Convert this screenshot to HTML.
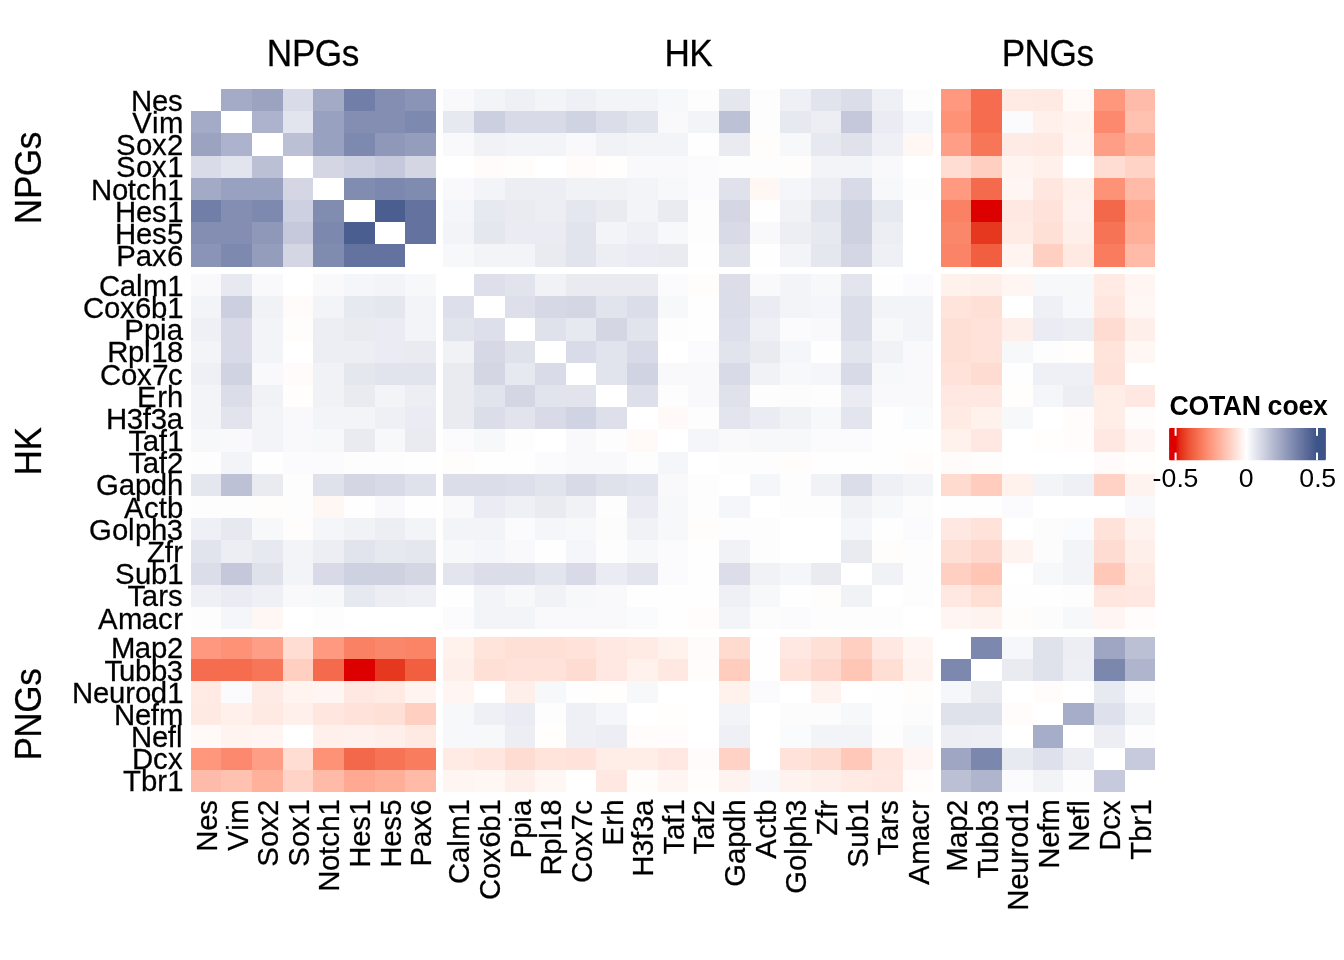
<!DOCTYPE html>
<html><head><meta charset="utf-8">
<style>
html,body{margin:0;padding:0;background:#fff;}
body{width:1344px;height:960px;overflow:hidden;}
svg{display:block;font-family:"Liberation Sans",sans-serif;fill:#000;font-kerning:none;}
.n{font-size:29.33px;stroke:#000;stroke-width:0.25px;}
.t{font-size:35.2px;stroke:#000;stroke-width:0.25px;}
.lt{font-size:26.67px;font-weight:bold;}
.ll{font-size:26.67px;}
</style></head><body>
<svg width="1344" height="960" viewBox="0 0 1344 960">
<defs><linearGradient id="lg" gradientUnits="userSpaceOnUse" x1="1175.6" x2="1317" y1="0" y2="0">
<stop offset="0" stop-color="#DD0000"/><stop offset="0.025" stop-color="#E22511"/><stop offset="0.05" stop-color="#E6381E"/><stop offset="0.075" stop-color="#EA472B"/><stop offset="0.1" stop-color="#EE5537"/><stop offset="0.125" stop-color="#F16143"/><stop offset="0.15" stop-color="#F56D4E"/><stop offset="0.175" stop-color="#F8785A"/><stop offset="0.2" stop-color="#FA8366"/><stop offset="0.225" stop-color="#FD8E72"/><stop offset="0.25" stop-color="#FF987E"/><stop offset="0.275" stop-color="#FFA38B"/><stop offset="0.3" stop-color="#FFAD97"/><stop offset="0.325" stop-color="#FFB7A3"/><stop offset="0.35" stop-color="#FFC2B0"/><stop offset="0.375" stop-color="#FFCCBD"/><stop offset="0.4" stop-color="#FFD6CA"/><stop offset="0.425" stop-color="#FFE0D7"/><stop offset="0.45" stop-color="#FFEBE4"/><stop offset="0.475" stop-color="#FFF5F2"/><stop offset="0.5" stop-color="#FFFFFF"/><stop offset="0.525" stop-color="#F5F6F9"/><stop offset="0.55" stop-color="#EBECF3"/><stop offset="0.575" stop-color="#E1E3ED"/><stop offset="0.6" stop-color="#D8DAE7"/><stop offset="0.625" stop-color="#CED1E0"/><stop offset="0.65" stop-color="#C4C8DA"/><stop offset="0.675" stop-color="#BABFD4"/><stop offset="0.7" stop-color="#B1B6CE"/><stop offset="0.725" stop-color="#A7AEC8"/><stop offset="0.75" stop-color="#9EA5C2"/><stop offset="0.775" stop-color="#949CBC"/><stop offset="0.8" stop-color="#8A94B7"/><stop offset="0.825" stop-color="#818CB1"/><stop offset="0.85" stop-color="#7783AB"/><stop offset="0.875" stop-color="#6E7BA5"/><stop offset="0.9" stop-color="#64739F"/><stop offset="0.925" stop-color="#5B6B99"/><stop offset="0.95" stop-color="#516393"/><stop offset="0.975" stop-color="#475C8E"/><stop offset="1" stop-color="#3C5488"/>
</linearGradient></defs>
<rect width="1344" height="960" fill="#fff"/>
<g shape-rendering="crispEdges">
<rect x="221" y="89" width="31" height="22" fill="#A4ABC7"/>
<rect x="252" y="89" width="31" height="22" fill="#9CA3C1"/>
<rect x="283" y="89" width="30" height="22" fill="#D9DCE8"/>
<rect x="313" y="89" width="31" height="22" fill="#A3AAC5"/>
<rect x="344" y="89" width="31" height="22" fill="#717EA7"/>
<rect x="375" y="89" width="30" height="22" fill="#848EB3"/>
<rect x="405" y="89" width="31" height="22" fill="#8A94B7"/>
<rect x="443" y="89" width="31" height="22" fill="#F9F9FB"/>
<rect x="474" y="89" width="31" height="22" fill="#F3F4F8"/>
<rect x="505" y="89" width="30" height="22" fill="#EFF0F5"/>
<rect x="535" y="89" width="31" height="22" fill="#F3F4F8"/>
<rect x="566" y="89" width="30" height="22" fill="#EFF0F5"/>
<rect x="596" y="89" width="31" height="22" fill="#F3F4F8"/>
<rect x="627" y="89" width="31" height="22" fill="#F3F4F8"/>
<rect x="658" y="89" width="30" height="22" fill="#F7F8FA"/>
<rect x="688" y="89" width="31" height="22" fill="#FDFDFE"/>
<rect x="719" y="89" width="31" height="22" fill="#E5E7EF"/>
<rect x="750" y="89" width="30" height="22" fill="#FDFDFE"/>
<rect x="780" y="89" width="31" height="22" fill="#EFF0F5"/>
<rect x="811" y="89" width="30" height="22" fill="#E1E3ED"/>
<rect x="841" y="89" width="31" height="22" fill="#DBDEE9"/>
<rect x="872" y="89" width="31" height="22" fill="#EFF0F5"/>
<rect x="903" y="89" width="30" height="22" fill="#FDFDFE"/>
<rect x="941" y="89" width="30" height="22" fill="#FF987E"/>
<rect x="971" y="89" width="31" height="22" fill="#F56D4E"/>
<rect x="1002" y="89" width="31" height="22" fill="#FFEBE4"/>
<rect x="1033" y="89" width="30" height="22" fill="#FFEAE3"/>
<rect x="1063" y="89" width="31" height="22" fill="#FFFAF8"/>
<rect x="1094" y="89" width="31" height="22" fill="#FF977D"/>
<rect x="1125" y="89" width="30" height="22" fill="#FFBBA9"/>
<rect x="191" y="111" width="30" height="22" fill="#A4ABC7"/>
<rect x="252" y="111" width="31" height="22" fill="#ADB3CC"/>
<rect x="283" y="111" width="30" height="22" fill="#E3E5EE"/>
<rect x="313" y="111" width="31" height="22" fill="#99A1C0"/>
<rect x="344" y="111" width="31" height="22" fill="#848EB3"/>
<rect x="375" y="111" width="30" height="22" fill="#848EB3"/>
<rect x="405" y="111" width="31" height="22" fill="#7E89AF"/>
<rect x="443" y="111" width="31" height="22" fill="#E7E9F0"/>
<rect x="474" y="111" width="31" height="22" fill="#CCCFDF"/>
<rect x="505" y="111" width="30" height="22" fill="#D8DAE7"/>
<rect x="535" y="111" width="31" height="22" fill="#D8DAE7"/>
<rect x="566" y="111" width="30" height="22" fill="#D0D3E2"/>
<rect x="596" y="111" width="31" height="22" fill="#DBDEE9"/>
<rect x="627" y="111" width="31" height="22" fill="#E1E3ED"/>
<rect x="658" y="111" width="30" height="22" fill="#F9F9FB"/>
<rect x="688" y="111" width="31" height="22" fill="#F3F4F8"/>
<rect x="719" y="111" width="31" height="22" fill="#BCC1D6"/>
<rect x="750" y="111" width="30" height="22" fill="#FDFDFE"/>
<rect x="780" y="111" width="31" height="22" fill="#E7E9F0"/>
<rect x="811" y="111" width="30" height="22" fill="#EDEEF4"/>
<rect x="841" y="111" width="31" height="22" fill="#C4C8DA"/>
<rect x="872" y="111" width="31" height="22" fill="#EBECF3"/>
<rect x="903" y="111" width="30" height="22" fill="#F5F6F9"/>
<rect x="941" y="111" width="30" height="22" fill="#FE9277"/>
<rect x="971" y="111" width="31" height="22" fill="#F56D4E"/>
<rect x="1002" y="111" width="31" height="22" fill="#FBFBFD"/>
<rect x="1033" y="111" width="30" height="22" fill="#FFF0EB"/>
<rect x="1063" y="111" width="31" height="22" fill="#FFF4F0"/>
<rect x="1094" y="111" width="31" height="22" fill="#FC896D"/>
<rect x="1125" y="111" width="30" height="22" fill="#FFC2B0"/>
<rect x="191" y="133" width="30" height="23" fill="#9CA3C1"/>
<rect x="221" y="133" width="31" height="23" fill="#ADB3CC"/>
<rect x="283" y="133" width="30" height="23" fill="#BBC0D5"/>
<rect x="313" y="133" width="31" height="23" fill="#99A1C0"/>
<rect x="344" y="133" width="31" height="23" fill="#7E89AF"/>
<rect x="375" y="133" width="30" height="23" fill="#8F98B9"/>
<rect x="405" y="133" width="31" height="23" fill="#959DBD"/>
<rect x="443" y="133" width="31" height="23" fill="#F9F9FB"/>
<rect x="474" y="133" width="31" height="23" fill="#F1F2F6"/>
<rect x="505" y="133" width="30" height="23" fill="#F3F4F8"/>
<rect x="535" y="133" width="31" height="23" fill="#F3F4F8"/>
<rect x="566" y="133" width="30" height="23" fill="#F9F9FB"/>
<rect x="596" y="133" width="31" height="23" fill="#F1F2F6"/>
<rect x="627" y="133" width="31" height="23" fill="#F3F4F8"/>
<rect x="658" y="133" width="30" height="23" fill="#F3F4F8"/>
<rect x="688" y="133" width="31" height="23" fill="#FEFEFE"/>
<rect x="719" y="133" width="31" height="23" fill="#E9EBF1"/>
<rect x="750" y="133" width="30" height="23" fill="#FFFDFC"/>
<rect x="780" y="133" width="31" height="23" fill="#F7F8FA"/>
<rect x="811" y="133" width="30" height="23" fill="#E7E9F0"/>
<rect x="841" y="133" width="31" height="23" fill="#DFE1EB"/>
<rect x="872" y="133" width="31" height="23" fill="#EFF0F5"/>
<rect x="903" y="133" width="30" height="23" fill="#FFF7F4"/>
<rect x="941" y="133" width="30" height="23" fill="#FF9E86"/>
<rect x="971" y="133" width="31" height="23" fill="#F77658"/>
<rect x="1002" y="133" width="31" height="23" fill="#FFEBE5"/>
<rect x="1033" y="133" width="30" height="23" fill="#FFE9E3"/>
<rect x="1063" y="133" width="31" height="23" fill="#FFF6F3"/>
<rect x="1094" y="133" width="31" height="23" fill="#FF9E86"/>
<rect x="1125" y="133" width="30" height="23" fill="#FFB19C"/>
<rect x="191" y="156" width="30" height="22" fill="#D9DCE8"/>
<rect x="221" y="156" width="31" height="22" fill="#E3E5EE"/>
<rect x="252" y="156" width="31" height="22" fill="#BBC0D5"/>
<rect x="313" y="156" width="31" height="22" fill="#D4D6E4"/>
<rect x="344" y="156" width="31" height="22" fill="#CDD0E0"/>
<rect x="375" y="156" width="30" height="22" fill="#C5C9DB"/>
<rect x="405" y="156" width="31" height="22" fill="#D4D6E4"/>
<rect x="474" y="156" width="31" height="22" fill="#FFFBFA"/>
<rect x="505" y="156" width="30" height="22" fill="#FFFDFC"/>
<rect x="566" y="156" width="30" height="22" fill="#FFFBFA"/>
<rect x="596" y="156" width="31" height="22" fill="#FFFEFD"/>
<rect x="627" y="156" width="31" height="22" fill="#F9F9FB"/>
<rect x="658" y="156" width="30" height="22" fill="#F9F9FB"/>
<rect x="688" y="156" width="31" height="22" fill="#FBFBFD"/>
<rect x="719" y="156" width="31" height="22" fill="#FDFDFE"/>
<rect x="750" y="156" width="30" height="22" fill="#FDFDFE"/>
<rect x="780" y="156" width="31" height="22" fill="#FFFDFC"/>
<rect x="811" y="156" width="30" height="22" fill="#F3F4F8"/>
<rect x="841" y="156" width="31" height="22" fill="#F3F4F8"/>
<rect x="872" y="156" width="31" height="22" fill="#F9F9FB"/>
<rect x="941" y="156" width="30" height="22" fill="#FFDDD3"/>
<rect x="971" y="156" width="31" height="22" fill="#FFD0C2"/>
<rect x="1002" y="156" width="31" height="22" fill="#FFF4F0"/>
<rect x="1033" y="156" width="30" height="22" fill="#FFF0EB"/>
<rect x="1094" y="156" width="31" height="22" fill="#FFDDD3"/>
<rect x="1125" y="156" width="30" height="22" fill="#FFD4C7"/>
<rect x="191" y="178" width="30" height="22" fill="#A3AAC5"/>
<rect x="221" y="178" width="31" height="22" fill="#99A1C0"/>
<rect x="252" y="178" width="31" height="22" fill="#99A1C0"/>
<rect x="283" y="178" width="30" height="22" fill="#D4D6E4"/>
<rect x="344" y="178" width="31" height="22" fill="#818CB1"/>
<rect x="375" y="178" width="30" height="22" fill="#7D88AE"/>
<rect x="405" y="178" width="31" height="22" fill="#808BB0"/>
<rect x="443" y="178" width="31" height="22" fill="#F9F9FB"/>
<rect x="474" y="178" width="31" height="22" fill="#F3F4F8"/>
<rect x="505" y="178" width="30" height="22" fill="#EDEEF4"/>
<rect x="535" y="178" width="31" height="22" fill="#EDEEF4"/>
<rect x="566" y="178" width="30" height="22" fill="#F1F2F6"/>
<rect x="596" y="178" width="31" height="22" fill="#F1F2F6"/>
<rect x="627" y="178" width="31" height="22" fill="#F3F4F8"/>
<rect x="658" y="178" width="30" height="22" fill="#F7F8FA"/>
<rect x="688" y="178" width="31" height="22" fill="#FBFBFD"/>
<rect x="719" y="178" width="31" height="22" fill="#DFE1EB"/>
<rect x="750" y="178" width="30" height="22" fill="#FFF7F4"/>
<rect x="780" y="178" width="31" height="22" fill="#F5F6F9"/>
<rect x="811" y="178" width="30" height="22" fill="#EDEEF4"/>
<rect x="841" y="178" width="31" height="22" fill="#D8DAE7"/>
<rect x="872" y="178" width="31" height="22" fill="#F7F8FA"/>
<rect x="903" y="178" width="30" height="22" fill="#FDFDFE"/>
<rect x="941" y="178" width="30" height="22" fill="#FF997F"/>
<rect x="971" y="178" width="31" height="22" fill="#F46A4C"/>
<rect x="1002" y="178" width="31" height="22" fill="#FFF5F2"/>
<rect x="1033" y="178" width="30" height="22" fill="#FFE6DF"/>
<rect x="1063" y="178" width="31" height="22" fill="#FFF0EB"/>
<rect x="1094" y="178" width="31" height="22" fill="#FE9277"/>
<rect x="1125" y="178" width="30" height="22" fill="#FFBBA8"/>
<rect x="191" y="200" width="30" height="22" fill="#717EA7"/>
<rect x="221" y="200" width="31" height="22" fill="#848EB3"/>
<rect x="252" y="200" width="31" height="22" fill="#7E89AF"/>
<rect x="283" y="200" width="30" height="22" fill="#CDD0E0"/>
<rect x="313" y="200" width="31" height="22" fill="#818CB1"/>
<rect x="375" y="200" width="30" height="22" fill="#4A5E90"/>
<rect x="405" y="200" width="31" height="22" fill="#63729F"/>
<rect x="443" y="200" width="31" height="22" fill="#F5F6F9"/>
<rect x="474" y="200" width="31" height="22" fill="#E7E9F0"/>
<rect x="505" y="200" width="30" height="22" fill="#E9EBF1"/>
<rect x="535" y="200" width="31" height="22" fill="#EDEEF4"/>
<rect x="566" y="200" width="30" height="22" fill="#E5E7EF"/>
<rect x="596" y="200" width="31" height="22" fill="#E9EBF1"/>
<rect x="627" y="200" width="31" height="22" fill="#F3F4F8"/>
<rect x="658" y="200" width="30" height="22" fill="#E9EBF1"/>
<rect x="688" y="200" width="31" height="22" fill="#FDFDFE"/>
<rect x="719" y="200" width="31" height="22" fill="#D4D6E4"/>
<rect x="750" y="200" width="30" height="22" fill="#FFFEFE"/>
<rect x="780" y="200" width="31" height="22" fill="#F1F2F6"/>
<rect x="811" y="200" width="30" height="22" fill="#E1E3ED"/>
<rect x="841" y="200" width="31" height="22" fill="#CED1E0"/>
<rect x="872" y="200" width="31" height="22" fill="#E7E9F0"/>
<rect x="941" y="200" width="30" height="22" fill="#FA8164"/>
<rect x="971" y="200" width="31" height="22" fill="#DD0000"/>
<rect x="1002" y="200" width="31" height="22" fill="#FFE8E1"/>
<rect x="1033" y="200" width="30" height="22" fill="#FFE2DA"/>
<rect x="1063" y="200" width="31" height="22" fill="#FFF1ED"/>
<rect x="1094" y="200" width="31" height="22" fill="#F3684A"/>
<rect x="1125" y="200" width="30" height="22" fill="#FFA992"/>
<rect x="191" y="222" width="30" height="22" fill="#848EB3"/>
<rect x="221" y="222" width="31" height="22" fill="#848EB3"/>
<rect x="252" y="222" width="31" height="22" fill="#8F98B9"/>
<rect x="283" y="222" width="30" height="22" fill="#C5C9DB"/>
<rect x="313" y="222" width="31" height="22" fill="#7D88AE"/>
<rect x="344" y="222" width="31" height="22" fill="#4A5E90"/>
<rect x="405" y="222" width="31" height="22" fill="#63729F"/>
<rect x="443" y="222" width="31" height="22" fill="#F3F4F8"/>
<rect x="474" y="222" width="31" height="22" fill="#E5E7EF"/>
<rect x="505" y="222" width="30" height="22" fill="#EBECF3"/>
<rect x="535" y="222" width="31" height="22" fill="#EBECF3"/>
<rect x="566" y="222" width="30" height="22" fill="#E1E3ED"/>
<rect x="596" y="222" width="31" height="22" fill="#F3F4F8"/>
<rect x="627" y="222" width="31" height="22" fill="#EFF0F5"/>
<rect x="658" y="222" width="30" height="22" fill="#F7F8FA"/>
<rect x="688" y="222" width="31" height="22" fill="#FDFDFE"/>
<rect x="719" y="222" width="31" height="22" fill="#D8DAE7"/>
<rect x="750" y="222" width="30" height="22" fill="#F9F9FB"/>
<rect x="780" y="222" width="31" height="22" fill="#EDEEF4"/>
<rect x="811" y="222" width="30" height="22" fill="#E7E9F0"/>
<rect x="841" y="222" width="31" height="22" fill="#CED1E0"/>
<rect x="872" y="222" width="31" height="22" fill="#EDEEF4"/>
<rect x="941" y="222" width="30" height="22" fill="#FB876B"/>
<rect x="971" y="222" width="31" height="22" fill="#E6381E"/>
<rect x="1002" y="222" width="31" height="22" fill="#FFEBE4"/>
<rect x="1033" y="222" width="30" height="22" fill="#FFE0D7"/>
<rect x="1063" y="222" width="31" height="22" fill="#FFEFEA"/>
<rect x="1094" y="222" width="31" height="22" fill="#F77355"/>
<rect x="1125" y="222" width="30" height="22" fill="#FFAE98"/>
<rect x="191" y="244" width="30" height="23" fill="#8A94B7"/>
<rect x="221" y="244" width="31" height="23" fill="#7E89AF"/>
<rect x="252" y="244" width="31" height="23" fill="#959DBD"/>
<rect x="283" y="244" width="30" height="23" fill="#D4D6E4"/>
<rect x="313" y="244" width="31" height="23" fill="#808BB0"/>
<rect x="344" y="244" width="31" height="23" fill="#63729F"/>
<rect x="375" y="244" width="30" height="23" fill="#63729F"/>
<rect x="443" y="244" width="31" height="23" fill="#F7F8FA"/>
<rect x="474" y="244" width="31" height="23" fill="#F3F4F8"/>
<rect x="505" y="244" width="30" height="23" fill="#F3F4F8"/>
<rect x="535" y="244" width="31" height="23" fill="#E9EBF1"/>
<rect x="566" y="244" width="30" height="23" fill="#E1E3ED"/>
<rect x="596" y="244" width="31" height="23" fill="#EDEEF4"/>
<rect x="627" y="244" width="31" height="23" fill="#EBECF3"/>
<rect x="658" y="244" width="30" height="23" fill="#E9EBF1"/>
<rect x="688" y="244" width="31" height="23" fill="#FFFEFE"/>
<rect x="719" y="244" width="31" height="23" fill="#DFE1EB"/>
<rect x="750" y="244" width="30" height="23" fill="#FFFEFE"/>
<rect x="780" y="244" width="31" height="23" fill="#F3F4F8"/>
<rect x="811" y="244" width="30" height="23" fill="#E5E7EF"/>
<rect x="841" y="244" width="31" height="23" fill="#D4D6E4"/>
<rect x="872" y="244" width="31" height="23" fill="#EFF0F5"/>
<rect x="941" y="244" width="30" height="23" fill="#FB8467"/>
<rect x="971" y="244" width="31" height="23" fill="#F15E40"/>
<rect x="1002" y="244" width="31" height="23" fill="#FFF4F0"/>
<rect x="1033" y="244" width="30" height="23" fill="#FFD0C2"/>
<rect x="1063" y="244" width="31" height="23" fill="#FFEAE3"/>
<rect x="1094" y="244" width="31" height="23" fill="#F97C5F"/>
<rect x="1125" y="244" width="30" height="23" fill="#FFBBA8"/>
<rect x="191" y="274" width="30" height="22" fill="#F9F9FB"/>
<rect x="221" y="274" width="31" height="22" fill="#E7E9F0"/>
<rect x="252" y="274" width="31" height="22" fill="#F9F9FB"/>
<rect x="313" y="274" width="31" height="22" fill="#F9F9FB"/>
<rect x="344" y="274" width="31" height="22" fill="#F5F6F9"/>
<rect x="375" y="274" width="30" height="22" fill="#F3F4F8"/>
<rect x="405" y="274" width="31" height="22" fill="#F7F8FA"/>
<rect x="474" y="274" width="31" height="22" fill="#DDE0EA"/>
<rect x="505" y="274" width="30" height="22" fill="#E1E3ED"/>
<rect x="535" y="274" width="31" height="22" fill="#F1F2F6"/>
<rect x="566" y="274" width="30" height="22" fill="#E9EBF1"/>
<rect x="596" y="274" width="31" height="22" fill="#E9EBF1"/>
<rect x="627" y="274" width="31" height="22" fill="#E9EBF1"/>
<rect x="658" y="274" width="30" height="22" fill="#FBFBFD"/>
<rect x="688" y="274" width="31" height="22" fill="#FFFDFC"/>
<rect x="719" y="274" width="31" height="22" fill="#DBDEE9"/>
<rect x="750" y="274" width="30" height="22" fill="#F9F9FB"/>
<rect x="780" y="274" width="31" height="22" fill="#F3F4F8"/>
<rect x="811" y="274" width="30" height="22" fill="#F7F8FA"/>
<rect x="841" y="274" width="31" height="22" fill="#E3E5EE"/>
<rect x="872" y="274" width="31" height="22" fill="#FFFEFE"/>
<rect x="903" y="274" width="30" height="22" fill="#FBFBFD"/>
<rect x="941" y="274" width="30" height="22" fill="#FFF1EC"/>
<rect x="971" y="274" width="31" height="22" fill="#FFEFEA"/>
<rect x="1002" y="274" width="31" height="22" fill="#FFF5F2"/>
<rect x="1033" y="274" width="30" height="22" fill="#F7F8FA"/>
<rect x="1063" y="274" width="31" height="22" fill="#F7F8FA"/>
<rect x="1094" y="274" width="31" height="22" fill="#FFEBE4"/>
<rect x="1125" y="274" width="30" height="22" fill="#FFF5F2"/>
<rect x="191" y="296" width="30" height="22" fill="#F3F4F8"/>
<rect x="221" y="296" width="31" height="22" fill="#CCCFDF"/>
<rect x="252" y="296" width="31" height="22" fill="#F1F2F6"/>
<rect x="283" y="296" width="30" height="22" fill="#FFFBFA"/>
<rect x="313" y="296" width="31" height="22" fill="#F3F4F8"/>
<rect x="344" y="296" width="31" height="22" fill="#E7E9F0"/>
<rect x="375" y="296" width="30" height="22" fill="#E5E7EF"/>
<rect x="405" y="296" width="31" height="22" fill="#F3F4F8"/>
<rect x="443" y="296" width="31" height="22" fill="#DDE0EA"/>
<rect x="505" y="296" width="30" height="22" fill="#DDE0EA"/>
<rect x="535" y="296" width="31" height="22" fill="#D6D8E5"/>
<rect x="566" y="296" width="30" height="22" fill="#D4D6E4"/>
<rect x="596" y="296" width="31" height="22" fill="#E1E3ED"/>
<rect x="627" y="296" width="31" height="22" fill="#DBDEE9"/>
<rect x="658" y="296" width="30" height="22" fill="#F7F8FA"/>
<rect x="688" y="296" width="31" height="22" fill="#FEFEFE"/>
<rect x="719" y="296" width="31" height="22" fill="#DBDEE9"/>
<rect x="750" y="296" width="30" height="22" fill="#EBECF3"/>
<rect x="780" y="296" width="31" height="22" fill="#F3F4F8"/>
<rect x="811" y="296" width="30" height="22" fill="#F5F6F9"/>
<rect x="841" y="296" width="31" height="22" fill="#DBDEE9"/>
<rect x="872" y="296" width="31" height="22" fill="#F3F4F8"/>
<rect x="903" y="296" width="30" height="22" fill="#F3F4F8"/>
<rect x="941" y="296" width="30" height="22" fill="#FFE4DC"/>
<rect x="971" y="296" width="31" height="22" fill="#FFE0D7"/>
<rect x="1033" y="296" width="30" height="22" fill="#EFF0F5"/>
<rect x="1063" y="296" width="31" height="22" fill="#F7F8FA"/>
<rect x="1094" y="296" width="31" height="22" fill="#FFE6DF"/>
<rect x="1125" y="296" width="30" height="22" fill="#FFF7F4"/>
<rect x="191" y="318" width="30" height="23" fill="#EFF0F5"/>
<rect x="221" y="318" width="31" height="23" fill="#D8DAE7"/>
<rect x="252" y="318" width="31" height="23" fill="#F3F4F8"/>
<rect x="283" y="318" width="30" height="23" fill="#FFFDFC"/>
<rect x="313" y="318" width="31" height="23" fill="#EDEEF4"/>
<rect x="344" y="318" width="31" height="23" fill="#E9EBF1"/>
<rect x="375" y="318" width="30" height="23" fill="#EBECF3"/>
<rect x="405" y="318" width="31" height="23" fill="#F3F4F8"/>
<rect x="443" y="318" width="31" height="23" fill="#E1E3ED"/>
<rect x="474" y="318" width="31" height="23" fill="#DDE0EA"/>
<rect x="535" y="318" width="31" height="23" fill="#DFE1EB"/>
<rect x="566" y="318" width="30" height="23" fill="#E7E9F0"/>
<rect x="596" y="318" width="31" height="23" fill="#D4D6E4"/>
<rect x="627" y="318" width="31" height="23" fill="#E1E3ED"/>
<rect x="658" y="318" width="30" height="23" fill="#FDFDFE"/>
<rect x="688" y="318" width="31" height="23" fill="#FEFEFE"/>
<rect x="719" y="318" width="31" height="23" fill="#DDE0EA"/>
<rect x="750" y="318" width="30" height="23" fill="#EFF0F5"/>
<rect x="780" y="318" width="31" height="23" fill="#FBFBFD"/>
<rect x="811" y="318" width="30" height="23" fill="#F9F9FB"/>
<rect x="841" y="318" width="31" height="23" fill="#DBDEE9"/>
<rect x="872" y="318" width="31" height="23" fill="#F7F8FA"/>
<rect x="903" y="318" width="30" height="23" fill="#F3F4F8"/>
<rect x="941" y="318" width="30" height="23" fill="#FFE0D7"/>
<rect x="971" y="318" width="31" height="23" fill="#FFE2DA"/>
<rect x="1002" y="318" width="31" height="23" fill="#FFEFEA"/>
<rect x="1033" y="318" width="30" height="23" fill="#EBECF3"/>
<rect x="1063" y="318" width="31" height="23" fill="#EDEEF4"/>
<rect x="1094" y="318" width="31" height="23" fill="#FFDCD2"/>
<rect x="1125" y="318" width="30" height="23" fill="#FFEFEA"/>
<rect x="191" y="341" width="30" height="22" fill="#F3F4F8"/>
<rect x="221" y="341" width="31" height="22" fill="#D8DAE7"/>
<rect x="252" y="341" width="31" height="22" fill="#F3F4F8"/>
<rect x="313" y="341" width="31" height="22" fill="#EDEEF4"/>
<rect x="344" y="341" width="31" height="22" fill="#EDEEF4"/>
<rect x="375" y="341" width="30" height="22" fill="#EBECF3"/>
<rect x="405" y="341" width="31" height="22" fill="#E9EBF1"/>
<rect x="443" y="341" width="31" height="22" fill="#F1F2F6"/>
<rect x="474" y="341" width="31" height="22" fill="#D6D8E5"/>
<rect x="505" y="341" width="30" height="22" fill="#DFE1EB"/>
<rect x="566" y="341" width="30" height="22" fill="#D9DCE8"/>
<rect x="596" y="341" width="31" height="22" fill="#E1E3ED"/>
<rect x="627" y="341" width="31" height="22" fill="#D8DAE7"/>
<rect x="688" y="341" width="31" height="22" fill="#FBFBFD"/>
<rect x="719" y="341" width="31" height="22" fill="#E1E3ED"/>
<rect x="750" y="341" width="30" height="22" fill="#E9EBF1"/>
<rect x="780" y="341" width="31" height="22" fill="#F5F6F9"/>
<rect x="811" y="341" width="30" height="22" fill="#FEFEFE"/>
<rect x="841" y="341" width="31" height="22" fill="#E3E5EE"/>
<rect x="872" y="341" width="31" height="22" fill="#F1F2F6"/>
<rect x="903" y="341" width="30" height="22" fill="#F9F9FB"/>
<rect x="941" y="341" width="30" height="22" fill="#FFE0D7"/>
<rect x="971" y="341" width="31" height="22" fill="#FFE2DA"/>
<rect x="1002" y="341" width="31" height="22" fill="#F7F8FA"/>
<rect x="1033" y="341" width="30" height="22" fill="#FDFDFE"/>
<rect x="1063" y="341" width="31" height="22" fill="#FFFEFD"/>
<rect x="1094" y="341" width="31" height="22" fill="#FFE4DC"/>
<rect x="1125" y="341" width="30" height="22" fill="#FFF7F4"/>
<rect x="191" y="363" width="30" height="22" fill="#EFF0F5"/>
<rect x="221" y="363" width="31" height="22" fill="#D0D3E2"/>
<rect x="252" y="363" width="31" height="22" fill="#F9F9FB"/>
<rect x="283" y="363" width="30" height="22" fill="#FFFBFA"/>
<rect x="313" y="363" width="31" height="22" fill="#F1F2F6"/>
<rect x="344" y="363" width="31" height="22" fill="#E5E7EF"/>
<rect x="375" y="363" width="30" height="22" fill="#E1E3ED"/>
<rect x="405" y="363" width="31" height="22" fill="#E1E3ED"/>
<rect x="443" y="363" width="31" height="22" fill="#E9EBF1"/>
<rect x="474" y="363" width="31" height="22" fill="#D4D6E4"/>
<rect x="505" y="363" width="30" height="22" fill="#E7E9F0"/>
<rect x="535" y="363" width="31" height="22" fill="#D9DCE8"/>
<rect x="596" y="363" width="31" height="22" fill="#E1E3ED"/>
<rect x="627" y="363" width="31" height="22" fill="#D0D3E2"/>
<rect x="658" y="363" width="30" height="22" fill="#F9F9FB"/>
<rect x="688" y="363" width="31" height="22" fill="#F9F9FB"/>
<rect x="719" y="363" width="31" height="22" fill="#D8DAE7"/>
<rect x="750" y="363" width="30" height="22" fill="#F1F2F6"/>
<rect x="780" y="363" width="31" height="22" fill="#F7F8FA"/>
<rect x="811" y="363" width="30" height="22" fill="#F5F6F9"/>
<rect x="841" y="363" width="31" height="22" fill="#D8DAE7"/>
<rect x="872" y="363" width="31" height="22" fill="#F7F8FA"/>
<rect x="903" y="363" width="30" height="22" fill="#F9F9FB"/>
<rect x="941" y="363" width="30" height="22" fill="#FFE2DA"/>
<rect x="971" y="363" width="31" height="22" fill="#FFDCD2"/>
<rect x="1002" y="363" width="31" height="22" fill="#FEFEFE"/>
<rect x="1033" y="363" width="30" height="22" fill="#EFF0F5"/>
<rect x="1063" y="363" width="31" height="22" fill="#EFF0F5"/>
<rect x="1094" y="363" width="31" height="22" fill="#FFE2DA"/>
<rect x="191" y="385" width="30" height="22" fill="#F3F4F8"/>
<rect x="221" y="385" width="31" height="22" fill="#DBDEE9"/>
<rect x="252" y="385" width="31" height="22" fill="#F1F2F6"/>
<rect x="283" y="385" width="30" height="22" fill="#FFFEFD"/>
<rect x="313" y="385" width="31" height="22" fill="#F1F2F6"/>
<rect x="344" y="385" width="31" height="22" fill="#E9EBF1"/>
<rect x="375" y="385" width="30" height="22" fill="#F3F4F8"/>
<rect x="405" y="385" width="31" height="22" fill="#EDEEF4"/>
<rect x="443" y="385" width="31" height="22" fill="#E9EBF1"/>
<rect x="474" y="385" width="31" height="22" fill="#E1E3ED"/>
<rect x="505" y="385" width="30" height="22" fill="#D4D6E4"/>
<rect x="535" y="385" width="31" height="22" fill="#E1E3ED"/>
<rect x="566" y="385" width="30" height="22" fill="#E1E3ED"/>
<rect x="627" y="385" width="31" height="22" fill="#DDE0EA"/>
<rect x="658" y="385" width="30" height="22" fill="#FDFDFE"/>
<rect x="688" y="385" width="31" height="22" fill="#F9F9FB"/>
<rect x="719" y="385" width="31" height="22" fill="#DFE1EB"/>
<rect x="750" y="385" width="30" height="22" fill="#FDFDFE"/>
<rect x="780" y="385" width="31" height="22" fill="#FCFCFD"/>
<rect x="811" y="385" width="30" height="22" fill="#FDFDFE"/>
<rect x="841" y="385" width="31" height="22" fill="#EBECF3"/>
<rect x="872" y="385" width="31" height="22" fill="#F9F9FB"/>
<rect x="903" y="385" width="30" height="22" fill="#F9F9FB"/>
<rect x="941" y="385" width="30" height="22" fill="#FFE8E2"/>
<rect x="971" y="385" width="31" height="22" fill="#FFE8E2"/>
<rect x="1002" y="385" width="31" height="22" fill="#FFFEFD"/>
<rect x="1033" y="385" width="30" height="22" fill="#F5F6F9"/>
<rect x="1063" y="385" width="31" height="22" fill="#EDEEF4"/>
<rect x="1094" y="385" width="31" height="22" fill="#FFEDE7"/>
<rect x="1125" y="385" width="30" height="22" fill="#FFE8E2"/>
<rect x="191" y="407" width="30" height="22" fill="#F3F4F8"/>
<rect x="221" y="407" width="31" height="22" fill="#E1E3ED"/>
<rect x="252" y="407" width="31" height="22" fill="#F3F4F8"/>
<rect x="283" y="407" width="30" height="22" fill="#F9F9FB"/>
<rect x="313" y="407" width="31" height="22" fill="#F3F4F8"/>
<rect x="344" y="407" width="31" height="22" fill="#F3F4F8"/>
<rect x="375" y="407" width="30" height="22" fill="#EFF0F5"/>
<rect x="405" y="407" width="31" height="22" fill="#EBECF3"/>
<rect x="443" y="407" width="31" height="22" fill="#E9EBF1"/>
<rect x="474" y="407" width="31" height="22" fill="#DBDEE9"/>
<rect x="505" y="407" width="30" height="22" fill="#E1E3ED"/>
<rect x="535" y="407" width="31" height="22" fill="#D8DAE7"/>
<rect x="566" y="407" width="30" height="22" fill="#D0D3E2"/>
<rect x="596" y="407" width="31" height="22" fill="#DDE0EA"/>
<rect x="658" y="407" width="30" height="22" fill="#FFF9F7"/>
<rect x="688" y="407" width="31" height="22" fill="#FDFDFE"/>
<rect x="719" y="407" width="31" height="22" fill="#E3E5EE"/>
<rect x="750" y="407" width="30" height="22" fill="#EBECF3"/>
<rect x="780" y="407" width="31" height="22" fill="#F1F2F6"/>
<rect x="811" y="407" width="30" height="22" fill="#F7F8FA"/>
<rect x="841" y="407" width="31" height="22" fill="#E3E5EE"/>
<rect x="872" y="407" width="31" height="22" fill="#FFFEFE"/>
<rect x="903" y="407" width="30" height="22" fill="#FAFBFC"/>
<rect x="941" y="407" width="30" height="22" fill="#FFEBE4"/>
<rect x="971" y="407" width="31" height="22" fill="#FFF1EC"/>
<rect x="1002" y="407" width="31" height="22" fill="#F7F8FA"/>
<rect x="1063" y="407" width="31" height="22" fill="#FFFCFB"/>
<rect x="1094" y="407" width="31" height="22" fill="#FFEDE7"/>
<rect x="1125" y="407" width="30" height="22" fill="#FFFDFC"/>
<rect x="191" y="429" width="30" height="23" fill="#F7F8FA"/>
<rect x="221" y="429" width="31" height="23" fill="#F9F9FB"/>
<rect x="252" y="429" width="31" height="23" fill="#F3F4F8"/>
<rect x="283" y="429" width="30" height="23" fill="#F9F9FB"/>
<rect x="313" y="429" width="31" height="23" fill="#F7F8FA"/>
<rect x="344" y="429" width="31" height="23" fill="#E9EBF1"/>
<rect x="375" y="429" width="30" height="23" fill="#F7F8FA"/>
<rect x="405" y="429" width="31" height="23" fill="#E9EBF1"/>
<rect x="443" y="429" width="31" height="23" fill="#FBFBFD"/>
<rect x="474" y="429" width="31" height="23" fill="#F7F8FA"/>
<rect x="505" y="429" width="30" height="23" fill="#FDFDFE"/>
<rect x="566" y="429" width="30" height="23" fill="#F9F9FB"/>
<rect x="596" y="429" width="31" height="23" fill="#FDFDFE"/>
<rect x="627" y="429" width="31" height="23" fill="#FFF9F7"/>
<rect x="688" y="429" width="31" height="23" fill="#F5F6F9"/>
<rect x="719" y="429" width="31" height="23" fill="#F9F9FB"/>
<rect x="750" y="429" width="30" height="23" fill="#F7F8FA"/>
<rect x="780" y="429" width="31" height="23" fill="#F7F8FA"/>
<rect x="811" y="429" width="30" height="23" fill="#FBFBFD"/>
<rect x="841" y="429" width="31" height="23" fill="#FBFBFD"/>
<rect x="872" y="429" width="31" height="23" fill="#FEFEFE"/>
<rect x="903" y="429" width="30" height="23" fill="#FEFEFE"/>
<rect x="941" y="429" width="30" height="23" fill="#FFF1EC"/>
<rect x="971" y="429" width="31" height="23" fill="#FFE8E2"/>
<rect x="1033" y="429" width="30" height="23" fill="#FFFEFD"/>
<rect x="1063" y="429" width="31" height="23" fill="#FFFCFB"/>
<rect x="1094" y="429" width="31" height="23" fill="#FFE8E2"/>
<rect x="1125" y="429" width="30" height="23" fill="#FFF5F2"/>
<rect x="191" y="452" width="30" height="22" fill="#FDFDFE"/>
<rect x="221" y="452" width="31" height="22" fill="#F3F4F8"/>
<rect x="252" y="452" width="31" height="22" fill="#FEFEFE"/>
<rect x="283" y="452" width="30" height="22" fill="#FBFBFD"/>
<rect x="313" y="452" width="31" height="22" fill="#FBFBFD"/>
<rect x="344" y="452" width="31" height="22" fill="#FDFDFE"/>
<rect x="375" y="452" width="30" height="22" fill="#FDFDFE"/>
<rect x="405" y="452" width="31" height="22" fill="#FFFEFE"/>
<rect x="443" y="452" width="31" height="22" fill="#FFFDFC"/>
<rect x="474" y="452" width="31" height="22" fill="#FEFEFE"/>
<rect x="505" y="452" width="30" height="22" fill="#FEFEFE"/>
<rect x="535" y="452" width="31" height="22" fill="#FBFBFD"/>
<rect x="566" y="452" width="30" height="22" fill="#F9F9FB"/>
<rect x="596" y="452" width="31" height="22" fill="#F9F9FB"/>
<rect x="627" y="452" width="31" height="22" fill="#FDFDFE"/>
<rect x="658" y="452" width="30" height="22" fill="#F5F6F9"/>
<rect x="719" y="452" width="31" height="22" fill="#FDFDFE"/>
<rect x="750" y="452" width="30" height="22" fill="#FDFDFE"/>
<rect x="780" y="452" width="31" height="22" fill="#FFFDFC"/>
<rect x="811" y="452" width="30" height="22" fill="#FEFEFE"/>
<rect x="841" y="452" width="31" height="22" fill="#FEFEFF"/>
<rect x="872" y="452" width="31" height="22" fill="#FEFEFF"/>
<rect x="903" y="452" width="30" height="22" fill="#FFFCFB"/>
<rect x="941" y="452" width="30" height="22" fill="#FFFBFA"/>
<rect x="971" y="452" width="31" height="22" fill="#FFFDFC"/>
<rect x="1094" y="452" width="31" height="22" fill="#FFFBFA"/>
<rect x="1125" y="452" width="30" height="22" fill="#FFFEFD"/>
<rect x="191" y="474" width="30" height="22" fill="#E5E7EF"/>
<rect x="221" y="474" width="31" height="22" fill="#BCC1D6"/>
<rect x="252" y="474" width="31" height="22" fill="#E9EBF1"/>
<rect x="283" y="474" width="30" height="22" fill="#FDFDFE"/>
<rect x="313" y="474" width="31" height="22" fill="#DFE1EB"/>
<rect x="344" y="474" width="31" height="22" fill="#D4D6E4"/>
<rect x="375" y="474" width="30" height="22" fill="#D8DAE7"/>
<rect x="405" y="474" width="31" height="22" fill="#DFE1EB"/>
<rect x="443" y="474" width="31" height="22" fill="#DBDEE9"/>
<rect x="474" y="474" width="31" height="22" fill="#DBDEE9"/>
<rect x="505" y="474" width="30" height="22" fill="#DDE0EA"/>
<rect x="535" y="474" width="31" height="22" fill="#E1E3ED"/>
<rect x="566" y="474" width="30" height="22" fill="#D8DAE7"/>
<rect x="596" y="474" width="31" height="22" fill="#DFE1EB"/>
<rect x="627" y="474" width="31" height="22" fill="#E3E5EE"/>
<rect x="658" y="474" width="30" height="22" fill="#F9F9FB"/>
<rect x="688" y="474" width="31" height="22" fill="#FDFDFE"/>
<rect x="750" y="474" width="30" height="22" fill="#F5F6F9"/>
<rect x="780" y="474" width="31" height="22" fill="#FDFDFE"/>
<rect x="811" y="474" width="30" height="22" fill="#F1F2F6"/>
<rect x="841" y="474" width="31" height="22" fill="#DBDEE9"/>
<rect x="872" y="474" width="31" height="22" fill="#EFF0F5"/>
<rect x="903" y="474" width="30" height="22" fill="#F3F4F8"/>
<rect x="941" y="474" width="30" height="22" fill="#FFDACF"/>
<rect x="971" y="474" width="31" height="22" fill="#FFCCBD"/>
<rect x="1002" y="474" width="31" height="22" fill="#FFF1EC"/>
<rect x="1033" y="474" width="30" height="22" fill="#F3F4F8"/>
<rect x="1063" y="474" width="31" height="22" fill="#EFF0F5"/>
<rect x="1094" y="474" width="31" height="22" fill="#FFD2C5"/>
<rect x="1125" y="474" width="30" height="22" fill="#FFF3EF"/>
<rect x="191" y="496" width="30" height="22" fill="#FDFDFE"/>
<rect x="221" y="496" width="31" height="22" fill="#FDFDFE"/>
<rect x="252" y="496" width="31" height="22" fill="#FFFDFC"/>
<rect x="283" y="496" width="30" height="22" fill="#FDFDFE"/>
<rect x="313" y="496" width="31" height="22" fill="#FFF7F4"/>
<rect x="344" y="496" width="31" height="22" fill="#FFFEFE"/>
<rect x="375" y="496" width="30" height="22" fill="#F9F9FB"/>
<rect x="405" y="496" width="31" height="22" fill="#FFFEFE"/>
<rect x="443" y="496" width="31" height="22" fill="#F9F9FB"/>
<rect x="474" y="496" width="31" height="22" fill="#EBECF3"/>
<rect x="505" y="496" width="30" height="22" fill="#EFF0F5"/>
<rect x="535" y="496" width="31" height="22" fill="#E9EBF1"/>
<rect x="566" y="496" width="30" height="22" fill="#F1F2F6"/>
<rect x="596" y="496" width="31" height="22" fill="#FDFDFE"/>
<rect x="627" y="496" width="31" height="22" fill="#EBECF3"/>
<rect x="658" y="496" width="30" height="22" fill="#F7F8FA"/>
<rect x="688" y="496" width="31" height="22" fill="#FDFDFE"/>
<rect x="719" y="496" width="31" height="22" fill="#F5F6F9"/>
<rect x="780" y="496" width="31" height="22" fill="#FDFDFE"/>
<rect x="811" y="496" width="30" height="22" fill="#FDFDFE"/>
<rect x="841" y="496" width="31" height="22" fill="#F1F2F6"/>
<rect x="872" y="496" width="31" height="22" fill="#F7F8FA"/>
<rect x="903" y="496" width="30" height="22" fill="#FCFCFD"/>
<rect x="941" y="496" width="30" height="22" fill="#FEFEFE"/>
<rect x="971" y="496" width="31" height="22" fill="#FEFEFE"/>
<rect x="1002" y="496" width="31" height="22" fill="#FBFBFD"/>
<rect x="1125" y="496" width="30" height="22" fill="#F9F9FB"/>
<rect x="191" y="518" width="30" height="22" fill="#EFF0F5"/>
<rect x="221" y="518" width="31" height="22" fill="#E7E9F0"/>
<rect x="252" y="518" width="31" height="22" fill="#F7F8FA"/>
<rect x="283" y="518" width="30" height="22" fill="#FFFDFC"/>
<rect x="313" y="518" width="31" height="22" fill="#F5F6F9"/>
<rect x="344" y="518" width="31" height="22" fill="#F1F2F6"/>
<rect x="375" y="518" width="30" height="22" fill="#EDEEF4"/>
<rect x="405" y="518" width="31" height="22" fill="#F3F4F8"/>
<rect x="443" y="518" width="31" height="22" fill="#F3F4F8"/>
<rect x="474" y="518" width="31" height="22" fill="#F3F4F8"/>
<rect x="505" y="518" width="30" height="22" fill="#FBFBFD"/>
<rect x="535" y="518" width="31" height="22" fill="#F5F6F9"/>
<rect x="566" y="518" width="30" height="22" fill="#F7F8FA"/>
<rect x="596" y="518" width="31" height="22" fill="#FCFCFD"/>
<rect x="627" y="518" width="31" height="22" fill="#F1F2F6"/>
<rect x="658" y="518" width="30" height="22" fill="#F7F8FA"/>
<rect x="688" y="518" width="31" height="22" fill="#FFFDFC"/>
<rect x="719" y="518" width="31" height="22" fill="#FDFDFE"/>
<rect x="750" y="518" width="30" height="22" fill="#FDFDFE"/>
<rect x="841" y="518" width="31" height="22" fill="#F5F6F9"/>
<rect x="872" y="518" width="31" height="22" fill="#FFFEFE"/>
<rect x="903" y="518" width="30" height="22" fill="#FBFBFD"/>
<rect x="941" y="518" width="30" height="22" fill="#FFE8E2"/>
<rect x="971" y="518" width="31" height="22" fill="#FFE2DA"/>
<rect x="1033" y="518" width="30" height="22" fill="#FCFCFD"/>
<rect x="1063" y="518" width="31" height="22" fill="#FAFBFC"/>
<rect x="1094" y="518" width="31" height="22" fill="#FFE2DA"/>
<rect x="1125" y="518" width="30" height="22" fill="#FFF3EF"/>
<rect x="191" y="540" width="30" height="23" fill="#E1E3ED"/>
<rect x="221" y="540" width="31" height="23" fill="#EDEEF4"/>
<rect x="252" y="540" width="31" height="23" fill="#E7E9F0"/>
<rect x="283" y="540" width="30" height="23" fill="#F3F4F8"/>
<rect x="313" y="540" width="31" height="23" fill="#EDEEF4"/>
<rect x="344" y="540" width="31" height="23" fill="#E1E3ED"/>
<rect x="375" y="540" width="30" height="23" fill="#E7E9F0"/>
<rect x="405" y="540" width="31" height="23" fill="#E5E7EF"/>
<rect x="443" y="540" width="31" height="23" fill="#F7F8FA"/>
<rect x="474" y="540" width="31" height="23" fill="#F5F6F9"/>
<rect x="505" y="540" width="30" height="23" fill="#F9F9FB"/>
<rect x="535" y="540" width="31" height="23" fill="#FEFEFE"/>
<rect x="566" y="540" width="30" height="23" fill="#F5F6F9"/>
<rect x="596" y="540" width="31" height="23" fill="#FDFDFE"/>
<rect x="627" y="540" width="31" height="23" fill="#F7F8FA"/>
<rect x="658" y="540" width="30" height="23" fill="#FBFBFD"/>
<rect x="688" y="540" width="31" height="23" fill="#FEFEFE"/>
<rect x="719" y="540" width="31" height="23" fill="#F1F2F6"/>
<rect x="750" y="540" width="30" height="23" fill="#FDFDFE"/>
<rect x="841" y="540" width="31" height="23" fill="#E9EBF1"/>
<rect x="872" y="540" width="31" height="23" fill="#FFFDFC"/>
<rect x="903" y="540" width="30" height="23" fill="#FDFDFE"/>
<rect x="941" y="540" width="30" height="23" fill="#FFE0D7"/>
<rect x="971" y="540" width="31" height="23" fill="#FFD8CD"/>
<rect x="1002" y="540" width="31" height="23" fill="#FFF3EF"/>
<rect x="1033" y="540" width="30" height="23" fill="#FCFCFD"/>
<rect x="1063" y="540" width="31" height="23" fill="#F3F4F8"/>
<rect x="1094" y="540" width="31" height="23" fill="#FFDCD2"/>
<rect x="1125" y="540" width="30" height="23" fill="#FFEFEA"/>
<rect x="191" y="563" width="30" height="22" fill="#DBDEE9"/>
<rect x="221" y="563" width="31" height="22" fill="#C4C8DA"/>
<rect x="252" y="563" width="31" height="22" fill="#DFE1EB"/>
<rect x="283" y="563" width="30" height="22" fill="#F3F4F8"/>
<rect x="313" y="563" width="31" height="22" fill="#D8DAE7"/>
<rect x="344" y="563" width="31" height="22" fill="#CED1E0"/>
<rect x="375" y="563" width="30" height="22" fill="#CED1E0"/>
<rect x="405" y="563" width="31" height="22" fill="#D4D6E4"/>
<rect x="443" y="563" width="31" height="22" fill="#E3E5EE"/>
<rect x="474" y="563" width="31" height="22" fill="#DBDEE9"/>
<rect x="505" y="563" width="30" height="22" fill="#DBDEE9"/>
<rect x="535" y="563" width="31" height="22" fill="#E3E5EE"/>
<rect x="566" y="563" width="30" height="22" fill="#D8DAE7"/>
<rect x="596" y="563" width="31" height="22" fill="#EBECF3"/>
<rect x="627" y="563" width="31" height="22" fill="#E3E5EE"/>
<rect x="658" y="563" width="30" height="22" fill="#FBFBFD"/>
<rect x="688" y="563" width="31" height="22" fill="#FEFEFF"/>
<rect x="719" y="563" width="31" height="22" fill="#DBDEE9"/>
<rect x="750" y="563" width="30" height="22" fill="#F1F2F6"/>
<rect x="780" y="563" width="31" height="22" fill="#F5F6F9"/>
<rect x="811" y="563" width="30" height="22" fill="#E9EBF1"/>
<rect x="872" y="563" width="31" height="22" fill="#F1F2F6"/>
<rect x="903" y="563" width="30" height="22" fill="#FDFDFE"/>
<rect x="941" y="563" width="30" height="22" fill="#FFD0C2"/>
<rect x="971" y="563" width="31" height="22" fill="#FFC6B5"/>
<rect x="1033" y="563" width="30" height="22" fill="#F7F8FA"/>
<rect x="1063" y="563" width="31" height="22" fill="#F3F4F8"/>
<rect x="1094" y="563" width="31" height="22" fill="#FFC8B8"/>
<rect x="1125" y="563" width="30" height="22" fill="#FFEBE4"/>
<rect x="191" y="585" width="30" height="22" fill="#EFF0F5"/>
<rect x="221" y="585" width="31" height="22" fill="#EBECF3"/>
<rect x="252" y="585" width="31" height="22" fill="#EFF0F5"/>
<rect x="283" y="585" width="30" height="22" fill="#F9F9FB"/>
<rect x="313" y="585" width="31" height="22" fill="#F7F8FA"/>
<rect x="344" y="585" width="31" height="22" fill="#E7E9F0"/>
<rect x="375" y="585" width="30" height="22" fill="#EDEEF4"/>
<rect x="405" y="585" width="31" height="22" fill="#EFF0F5"/>
<rect x="443" y="585" width="31" height="22" fill="#FFFEFE"/>
<rect x="474" y="585" width="31" height="22" fill="#F3F4F8"/>
<rect x="505" y="585" width="30" height="22" fill="#F7F8FA"/>
<rect x="535" y="585" width="31" height="22" fill="#F1F2F6"/>
<rect x="566" y="585" width="30" height="22" fill="#F7F8FA"/>
<rect x="596" y="585" width="31" height="22" fill="#F9F9FB"/>
<rect x="627" y="585" width="31" height="22" fill="#FFFEFE"/>
<rect x="658" y="585" width="30" height="22" fill="#FEFEFE"/>
<rect x="688" y="585" width="31" height="22" fill="#FEFEFF"/>
<rect x="719" y="585" width="31" height="22" fill="#EFF0F5"/>
<rect x="750" y="585" width="30" height="22" fill="#F7F8FA"/>
<rect x="780" y="585" width="31" height="22" fill="#FFFEFE"/>
<rect x="811" y="585" width="30" height="22" fill="#FFFDFC"/>
<rect x="841" y="585" width="31" height="22" fill="#F1F2F6"/>
<rect x="903" y="585" width="30" height="22" fill="#FDFDFE"/>
<rect x="941" y="585" width="30" height="22" fill="#FFE8E2"/>
<rect x="971" y="585" width="31" height="22" fill="#FFDED4"/>
<rect x="1002" y="585" width="31" height="22" fill="#FFFEFE"/>
<rect x="1033" y="585" width="30" height="22" fill="#FEFEFE"/>
<rect x="1063" y="585" width="31" height="22" fill="#FDFDFE"/>
<rect x="1094" y="585" width="31" height="22" fill="#FFE6DF"/>
<rect x="1125" y="585" width="30" height="22" fill="#FFE8E2"/>
<rect x="191" y="607" width="30" height="22" fill="#FDFDFE"/>
<rect x="221" y="607" width="31" height="22" fill="#F5F6F9"/>
<rect x="252" y="607" width="31" height="22" fill="#FFF7F4"/>
<rect x="313" y="607" width="31" height="22" fill="#FDFDFE"/>
<rect x="443" y="607" width="31" height="22" fill="#FBFBFD"/>
<rect x="474" y="607" width="31" height="22" fill="#F3F4F8"/>
<rect x="505" y="607" width="30" height="22" fill="#F3F4F8"/>
<rect x="535" y="607" width="31" height="22" fill="#F9F9FB"/>
<rect x="566" y="607" width="30" height="22" fill="#F9F9FB"/>
<rect x="596" y="607" width="31" height="22" fill="#F9F9FB"/>
<rect x="627" y="607" width="31" height="22" fill="#FAFBFC"/>
<rect x="658" y="607" width="30" height="22" fill="#FEFEFE"/>
<rect x="688" y="607" width="31" height="22" fill="#FFFCFB"/>
<rect x="719" y="607" width="31" height="22" fill="#F3F4F8"/>
<rect x="750" y="607" width="30" height="22" fill="#FCFCFD"/>
<rect x="780" y="607" width="31" height="22" fill="#FBFBFD"/>
<rect x="811" y="607" width="30" height="22" fill="#FDFDFE"/>
<rect x="841" y="607" width="31" height="22" fill="#FDFDFE"/>
<rect x="872" y="607" width="31" height="22" fill="#FDFDFE"/>
<rect x="941" y="607" width="30" height="22" fill="#FFF5F2"/>
<rect x="971" y="607" width="31" height="22" fill="#FFF3EF"/>
<rect x="1002" y="607" width="31" height="22" fill="#FFFDFC"/>
<rect x="1033" y="607" width="30" height="22" fill="#FCFCFD"/>
<rect x="1063" y="607" width="31" height="22" fill="#F7F8FA"/>
<rect x="1094" y="607" width="31" height="22" fill="#FFF5F2"/>
<rect x="1125" y="607" width="30" height="22" fill="#FFFCFB"/>
<rect x="191" y="637" width="30" height="22" fill="#FF987E"/>
<rect x="221" y="637" width="31" height="22" fill="#FE9277"/>
<rect x="252" y="637" width="31" height="22" fill="#FF9E86"/>
<rect x="283" y="637" width="30" height="22" fill="#FFDDD3"/>
<rect x="313" y="637" width="31" height="22" fill="#FF997F"/>
<rect x="344" y="637" width="31" height="22" fill="#FA8164"/>
<rect x="375" y="637" width="30" height="22" fill="#FB876B"/>
<rect x="405" y="637" width="31" height="22" fill="#FB8467"/>
<rect x="443" y="637" width="31" height="22" fill="#FFF1EC"/>
<rect x="474" y="637" width="31" height="22" fill="#FFE4DC"/>
<rect x="505" y="637" width="30" height="22" fill="#FFE0D7"/>
<rect x="535" y="637" width="31" height="22" fill="#FFE0D7"/>
<rect x="566" y="637" width="30" height="22" fill="#FFE2DA"/>
<rect x="596" y="637" width="31" height="22" fill="#FFE8E2"/>
<rect x="627" y="637" width="31" height="22" fill="#FFEBE4"/>
<rect x="658" y="637" width="30" height="22" fill="#FFF1EC"/>
<rect x="688" y="637" width="31" height="22" fill="#FFFBFA"/>
<rect x="719" y="637" width="31" height="22" fill="#FFDACF"/>
<rect x="750" y="637" width="30" height="22" fill="#FEFEFE"/>
<rect x="780" y="637" width="31" height="22" fill="#FFE8E2"/>
<rect x="811" y="637" width="30" height="22" fill="#FFE0D7"/>
<rect x="841" y="637" width="31" height="22" fill="#FFD0C2"/>
<rect x="872" y="637" width="31" height="22" fill="#FFE8E2"/>
<rect x="903" y="637" width="30" height="22" fill="#FFF5F2"/>
<rect x="971" y="637" width="31" height="22" fill="#7D88AE"/>
<rect x="1002" y="637" width="31" height="22" fill="#F6F7FA"/>
<rect x="1033" y="637" width="30" height="22" fill="#DFE1EB"/>
<rect x="1063" y="637" width="31" height="22" fill="#EDEEF4"/>
<rect x="1094" y="637" width="31" height="22" fill="#9EA6C3"/>
<rect x="1125" y="637" width="30" height="22" fill="#BBC0D5"/>
<rect x="191" y="659" width="30" height="22" fill="#F56D4E"/>
<rect x="221" y="659" width="31" height="22" fill="#F56D4E"/>
<rect x="252" y="659" width="31" height="22" fill="#F77658"/>
<rect x="283" y="659" width="30" height="22" fill="#FFD0C2"/>
<rect x="313" y="659" width="31" height="22" fill="#F46A4C"/>
<rect x="344" y="659" width="31" height="22" fill="#DD0000"/>
<rect x="375" y="659" width="30" height="22" fill="#E6381E"/>
<rect x="405" y="659" width="31" height="22" fill="#F15E40"/>
<rect x="443" y="659" width="31" height="22" fill="#FFEFEA"/>
<rect x="474" y="659" width="31" height="22" fill="#FFE0D7"/>
<rect x="505" y="659" width="30" height="22" fill="#FFE2DA"/>
<rect x="535" y="659" width="31" height="22" fill="#FFE2DA"/>
<rect x="566" y="659" width="30" height="22" fill="#FFDCD2"/>
<rect x="596" y="659" width="31" height="22" fill="#FFE8E2"/>
<rect x="627" y="659" width="31" height="22" fill="#FFF1EC"/>
<rect x="658" y="659" width="30" height="22" fill="#FFE8E2"/>
<rect x="688" y="659" width="31" height="22" fill="#FFFDFC"/>
<rect x="719" y="659" width="31" height="22" fill="#FFCCBD"/>
<rect x="750" y="659" width="30" height="22" fill="#FEFEFE"/>
<rect x="780" y="659" width="31" height="22" fill="#FFE2DA"/>
<rect x="811" y="659" width="30" height="22" fill="#FFD8CD"/>
<rect x="841" y="659" width="31" height="22" fill="#FFC6B5"/>
<rect x="872" y="659" width="31" height="22" fill="#FFDED4"/>
<rect x="903" y="659" width="30" height="22" fill="#FFF3EF"/>
<rect x="941" y="659" width="30" height="22" fill="#7D88AE"/>
<rect x="1002" y="659" width="31" height="22" fill="#E9EBF1"/>
<rect x="1033" y="659" width="30" height="22" fill="#DFE1EB"/>
<rect x="1063" y="659" width="31" height="22" fill="#EEEFF4"/>
<rect x="1094" y="659" width="31" height="22" fill="#7B87AD"/>
<rect x="1125" y="659" width="30" height="22" fill="#AFB5CD"/>
<rect x="191" y="681" width="30" height="22" fill="#FFEBE4"/>
<rect x="221" y="681" width="31" height="22" fill="#FBFBFD"/>
<rect x="252" y="681" width="31" height="22" fill="#FFEBE5"/>
<rect x="283" y="681" width="30" height="22" fill="#FFF4F0"/>
<rect x="313" y="681" width="31" height="22" fill="#FFF5F2"/>
<rect x="344" y="681" width="31" height="22" fill="#FFE8E1"/>
<rect x="375" y="681" width="30" height="22" fill="#FFEBE4"/>
<rect x="405" y="681" width="31" height="22" fill="#FFF4F0"/>
<rect x="443" y="681" width="31" height="22" fill="#FFF5F2"/>
<rect x="505" y="681" width="30" height="22" fill="#FFEFEA"/>
<rect x="535" y="681" width="31" height="22" fill="#F7F8FA"/>
<rect x="566" y="681" width="30" height="22" fill="#FEFEFE"/>
<rect x="596" y="681" width="31" height="22" fill="#FFFEFD"/>
<rect x="627" y="681" width="31" height="22" fill="#F7F8FA"/>
<rect x="719" y="681" width="31" height="22" fill="#FFF1EC"/>
<rect x="750" y="681" width="30" height="22" fill="#FBFBFD"/>
<rect x="811" y="681" width="30" height="22" fill="#FFF3EF"/>
<rect x="872" y="681" width="31" height="22" fill="#FFFEFE"/>
<rect x="903" y="681" width="30" height="22" fill="#FFFDFC"/>
<rect x="941" y="681" width="30" height="22" fill="#F6F7FA"/>
<rect x="971" y="681" width="31" height="22" fill="#E9EBF1"/>
<rect x="1033" y="681" width="30" height="22" fill="#FFFCFB"/>
<rect x="1094" y="681" width="31" height="22" fill="#E8EAF1"/>
<rect x="1125" y="681" width="30" height="22" fill="#FBFBFD"/>
<rect x="191" y="703" width="30" height="22" fill="#FFEAE3"/>
<rect x="221" y="703" width="31" height="22" fill="#FFF0EB"/>
<rect x="252" y="703" width="31" height="22" fill="#FFE9E3"/>
<rect x="283" y="703" width="30" height="22" fill="#FFF0EB"/>
<rect x="313" y="703" width="31" height="22" fill="#FFE6DF"/>
<rect x="344" y="703" width="31" height="22" fill="#FFE2DA"/>
<rect x="375" y="703" width="30" height="22" fill="#FFE0D7"/>
<rect x="405" y="703" width="31" height="22" fill="#FFD0C2"/>
<rect x="443" y="703" width="31" height="22" fill="#F7F8FA"/>
<rect x="474" y="703" width="31" height="22" fill="#EFF0F5"/>
<rect x="505" y="703" width="30" height="22" fill="#EBECF3"/>
<rect x="535" y="703" width="31" height="22" fill="#FDFDFE"/>
<rect x="566" y="703" width="30" height="22" fill="#EFF0F5"/>
<rect x="596" y="703" width="31" height="22" fill="#F5F6F9"/>
<rect x="658" y="703" width="30" height="22" fill="#FFFEFD"/>
<rect x="719" y="703" width="31" height="22" fill="#F3F4F8"/>
<rect x="780" y="703" width="31" height="22" fill="#FCFCFD"/>
<rect x="811" y="703" width="30" height="22" fill="#FCFCFD"/>
<rect x="841" y="703" width="31" height="22" fill="#F7F8FA"/>
<rect x="872" y="703" width="31" height="22" fill="#FEFEFE"/>
<rect x="903" y="703" width="30" height="22" fill="#FCFCFD"/>
<rect x="941" y="703" width="30" height="22" fill="#DFE1EB"/>
<rect x="971" y="703" width="31" height="22" fill="#DFE1EB"/>
<rect x="1002" y="703" width="31" height="22" fill="#FFFCFB"/>
<rect x="1063" y="703" width="31" height="22" fill="#A6ADC8"/>
<rect x="1094" y="703" width="31" height="22" fill="#DEE0EB"/>
<rect x="1125" y="703" width="30" height="22" fill="#F2F3F7"/>
<rect x="191" y="725" width="30" height="23" fill="#FFFAF8"/>
<rect x="221" y="725" width="31" height="23" fill="#FFF4F0"/>
<rect x="252" y="725" width="31" height="23" fill="#FFF6F3"/>
<rect x="313" y="725" width="31" height="23" fill="#FFF0EB"/>
<rect x="344" y="725" width="31" height="23" fill="#FFF1ED"/>
<rect x="375" y="725" width="30" height="23" fill="#FFEFEA"/>
<rect x="405" y="725" width="31" height="23" fill="#FFEAE3"/>
<rect x="443" y="725" width="31" height="23" fill="#F7F8FA"/>
<rect x="474" y="725" width="31" height="23" fill="#F7F8FA"/>
<rect x="505" y="725" width="30" height="23" fill="#EDEEF4"/>
<rect x="535" y="725" width="31" height="23" fill="#FFFEFD"/>
<rect x="566" y="725" width="30" height="23" fill="#EFF0F5"/>
<rect x="596" y="725" width="31" height="23" fill="#EDEEF4"/>
<rect x="627" y="725" width="31" height="23" fill="#FFFCFB"/>
<rect x="658" y="725" width="30" height="23" fill="#FFFCFB"/>
<rect x="719" y="725" width="31" height="23" fill="#EFF0F5"/>
<rect x="780" y="725" width="31" height="23" fill="#FAFBFC"/>
<rect x="811" y="725" width="30" height="23" fill="#F3F4F8"/>
<rect x="841" y="725" width="31" height="23" fill="#F3F4F8"/>
<rect x="872" y="725" width="31" height="23" fill="#FDFDFE"/>
<rect x="903" y="725" width="30" height="23" fill="#F7F8FA"/>
<rect x="941" y="725" width="30" height="23" fill="#EDEEF4"/>
<rect x="971" y="725" width="31" height="23" fill="#EEEFF4"/>
<rect x="1033" y="725" width="30" height="23" fill="#A6ADC8"/>
<rect x="1094" y="725" width="31" height="23" fill="#EDEEF4"/>
<rect x="1125" y="725" width="30" height="23" fill="#FDFDFE"/>
<rect x="191" y="748" width="30" height="22" fill="#FF977D"/>
<rect x="221" y="748" width="31" height="22" fill="#FC896D"/>
<rect x="252" y="748" width="31" height="22" fill="#FF9E86"/>
<rect x="283" y="748" width="30" height="22" fill="#FFDDD3"/>
<rect x="313" y="748" width="31" height="22" fill="#FE9277"/>
<rect x="344" y="748" width="31" height="22" fill="#F3684A"/>
<rect x="375" y="748" width="30" height="22" fill="#F77355"/>
<rect x="405" y="748" width="31" height="22" fill="#F97C5F"/>
<rect x="443" y="748" width="31" height="22" fill="#FFEBE4"/>
<rect x="474" y="748" width="31" height="22" fill="#FFE6DF"/>
<rect x="505" y="748" width="30" height="22" fill="#FFDCD2"/>
<rect x="535" y="748" width="31" height="22" fill="#FFE4DC"/>
<rect x="566" y="748" width="30" height="22" fill="#FFE2DA"/>
<rect x="596" y="748" width="31" height="22" fill="#FFEDE7"/>
<rect x="627" y="748" width="31" height="22" fill="#FFEDE7"/>
<rect x="658" y="748" width="30" height="22" fill="#FFE8E2"/>
<rect x="688" y="748" width="31" height="22" fill="#FFFBFA"/>
<rect x="719" y="748" width="31" height="22" fill="#FFD2C5"/>
<rect x="780" y="748" width="31" height="22" fill="#FFE2DA"/>
<rect x="811" y="748" width="30" height="22" fill="#FFDCD2"/>
<rect x="841" y="748" width="31" height="22" fill="#FFC8B8"/>
<rect x="872" y="748" width="31" height="22" fill="#FFE6DF"/>
<rect x="903" y="748" width="30" height="22" fill="#FFF5F2"/>
<rect x="941" y="748" width="30" height="22" fill="#9EA6C3"/>
<rect x="971" y="748" width="31" height="22" fill="#7B87AD"/>
<rect x="1002" y="748" width="31" height="22" fill="#E8EAF1"/>
<rect x="1033" y="748" width="30" height="22" fill="#DEE0EB"/>
<rect x="1063" y="748" width="31" height="22" fill="#EDEEF4"/>
<rect x="1125" y="748" width="30" height="22" fill="#C6CADC"/>
<rect x="191" y="770" width="30" height="22" fill="#FFBBA9"/>
<rect x="221" y="770" width="31" height="22" fill="#FFC2B0"/>
<rect x="252" y="770" width="31" height="22" fill="#FFB19C"/>
<rect x="283" y="770" width="30" height="22" fill="#FFD4C7"/>
<rect x="313" y="770" width="31" height="22" fill="#FFBBA8"/>
<rect x="344" y="770" width="31" height="22" fill="#FFA992"/>
<rect x="375" y="770" width="30" height="22" fill="#FFAE98"/>
<rect x="405" y="770" width="31" height="22" fill="#FFBBA8"/>
<rect x="443" y="770" width="31" height="22" fill="#FFF5F2"/>
<rect x="474" y="770" width="31" height="22" fill="#FFF7F4"/>
<rect x="505" y="770" width="30" height="22" fill="#FFEFEA"/>
<rect x="535" y="770" width="31" height="22" fill="#FFF7F4"/>
<rect x="596" y="770" width="31" height="22" fill="#FFE8E2"/>
<rect x="627" y="770" width="31" height="22" fill="#FFFDFC"/>
<rect x="658" y="770" width="30" height="22" fill="#FFF5F2"/>
<rect x="688" y="770" width="31" height="22" fill="#FFFEFD"/>
<rect x="719" y="770" width="31" height="22" fill="#FFF3EF"/>
<rect x="750" y="770" width="30" height="22" fill="#F9F9FB"/>
<rect x="780" y="770" width="31" height="22" fill="#FFF3EF"/>
<rect x="811" y="770" width="30" height="22" fill="#FFEFEA"/>
<rect x="841" y="770" width="31" height="22" fill="#FFEBE4"/>
<rect x="872" y="770" width="31" height="22" fill="#FFE8E2"/>
<rect x="903" y="770" width="30" height="22" fill="#FFFCFB"/>
<rect x="941" y="770" width="30" height="22" fill="#BBC0D5"/>
<rect x="971" y="770" width="31" height="22" fill="#AFB5CD"/>
<rect x="1002" y="770" width="31" height="22" fill="#FBFBFD"/>
<rect x="1033" y="770" width="30" height="22" fill="#F2F3F7"/>
<rect x="1063" y="770" width="31" height="22" fill="#FDFDFE"/>
<rect x="1094" y="770" width="31" height="22" fill="#C6CADC"/>
</g>
<g class="n">
<text transform="translate(0 110.74) scale(1 1.02)" x="131.04 152.03 168.07">Nes</text>
<text transform="translate(0 132.94) scale(1 1.02)" x="132.17 151.97 159.03">Vim</text>
<text transform="translate(0 155.12) scale(1 1.02)" x="116.09 135.9 151.9 166.89">Sox2</text>
<text transform="translate(0 177.31) scale(1 1.02)" x="116.09 135.9 151.9 167.24">Sox1</text>
<text transform="translate(0 199.5) scale(1 1.02)" x="91.04 111.9 127.79 135.93 150.98 167.24">Notch1</text>
<text transform="translate(0 221.69) scale(1 1.02)" x="115.11 136.03 152.07 167.24">Hes1</text>
<text transform="translate(0 243.88) scale(1 1.02)" x="115.11 136.03 152.07 166.96">Hes5</text>
<text transform="translate(0 266.07) scale(1 1.02)" x="116.22 135.73 151.9 166.95">Pax6</text>
<text transform="translate(0 295.76) scale(1 1.02)" x="98.91 119.73 136.01 143.03 167.24">Calm1</text>
<text transform="translate(0 317.96) scale(1 1.02)" x="82.91 103.9 119.9 134.95 151.03 167.24">Cox6b1</text>
<text transform="translate(0 340.14) scale(1 1.02)" x="124.22 144.03 159.97 166.73">Ppia</text>
<text transform="translate(0 362.34) scale(1 1.02)" x="107.26 128.03 144.01 151.24 166.96">Rpl18</text>
<text transform="translate(0 384.52) scale(1 1.02)" x="99.91 120.9 136.9 152.18 167.93">Cox7c</text>
<text transform="translate(0 406.72) scale(1 1.02)" x="137.01 157.16 166.98">Erh</text>
<text transform="translate(0 428.9) scale(1 1.02)" x="106.11 126.87 142.79 150.87 166.73">H3f3a</text>
<text transform="translate(0 451.1) scale(1 1.02)" x="128.39 142.73 158.79 167.24">Taf1</text>
<text transform="translate(0 473.28) scale(1 1.02)" x="128.39 142.73 158.79 166.89">Taf2</text>
<text transform="translate(0 495.48) scale(1 1.02)" x="96.04 118.73 135.03 150.86 166.98">Gapdh</text>
<text transform="translate(0 517.66) scale(1 1.02)" x="124.09 143.93 158.79 167.03">Actb</text>
<text transform="translate(0 539.86) scale(1 1.02)" x="89.04 111.9 128.01 135.03 150.98 166.87">Golph3</text>
<text transform="translate(0 562.05) scale(1 1.02)" x="147.05 164.79 173.16">Zfr</text>
<text transform="translate(0 584.24) scale(1 1.02)" x="115.09 134.94 151.03 167.24">Sub1</text>
<text transform="translate(0 606.43) scale(1 1.02)" x="127.39 141.73 158.16 168.07">Tars</text>
<text transform="translate(0 628.62) scale(1 1.02)" x="98.09 118.03 141.73 157.93 173.16">Amacr</text>
<text transform="translate(0 658.31) scale(1 1.02)" x="111.09 134.73 151.03 166.89">Map2</text>
<text transform="translate(0 680.5) scale(1 1.02)" x="104.39 118.94 135.03 151.03 166.87">Tubb3</text>
<text transform="translate(0 702.69) scale(1 1.02)" x="72.04 93.03 108.94 125.16 134.9 150.86 167.24">Neurod1</text>
<text transform="translate(0 724.88) scale(1 1.02)" x="114.04 135.03 150.79 159.03">Nefm</text>
<text transform="translate(0 747.07) scale(1 1.02)" x="131.04 152.03 167.79 176.01">Nefl</text>
<text transform="translate(0 769.26) scale(1 1.02)" x="132.04 152.93 167.9">Dcx</text>
<text transform="translate(0 791.45) scale(1 1.02)" x="123.1 141.03 157.16 167.24">Tbr1</text>
<text transform="translate(216.91 799.75) rotate(-90) scale(1 1.02)" x="-52.01 -31.02 -14.98">Nes</text>
<text transform="translate(247.54 799.75) rotate(-90) scale(1 1.02)" x="-50.88 -31.08 -24.02">Vim</text>
<text transform="translate(278.16 799.75) rotate(-90) scale(1 1.02)" x="-66.96 -47.15 -31.15 -16.16">Sox2</text>
<text transform="translate(308.79 799.75) rotate(-90) scale(1 1.02)" x="-66.96 -47.15 -31.15 -15.81">Sox1</text>
<text transform="translate(339.41 799.75) rotate(-90) scale(1 1.02)" x="-92.01 -71.15 -55.26 -47.12 -32.07 -15.81">Notch1</text>
<text transform="translate(370.04 799.75) rotate(-90) scale(1 1.02)" x="-67.94 -47.02 -30.98 -15.81">Hes1</text>
<text transform="translate(400.66 799.75) rotate(-90) scale(1 1.02)" x="-67.94 -47.02 -30.98 -16.09">Hes5</text>
<text transform="translate(431.29 799.75) rotate(-90) scale(1 1.02)" x="-66.83 -47.32 -31.15 -16.1">Pax6</text>
<text transform="translate(469.41 799.75) rotate(-90) scale(1 1.02)" x="-84.14 -63.32 -47.04 -40.02 -15.81">Calm1</text>
<text transform="translate(500.04 799.75) rotate(-90) scale(1 1.02)" x="-100.14 -79.15 -63.15 -48.1 -32.02 -15.81">Cox6b1</text>
<text transform="translate(530.66 799.75) rotate(-90) scale(1 1.02)" x="-58.83 -39.02 -23.08 -16.32">Ppia</text>
<text transform="translate(561.29 799.75) rotate(-90) scale(1 1.02)" x="-75.79 -55.02 -39.04 -31.81 -16.09">Rpl18</text>
<text transform="translate(591.91 799.75) rotate(-90) scale(1 1.02)" x="-83.14 -62.15 -46.15 -30.87 -15.12">Cox7c</text>
<text transform="translate(622.54 799.75) rotate(-90) scale(1 1.02)" x="-46.04 -25.89 -16.07">Erh</text>
<text transform="translate(653.16 799.75) rotate(-90) scale(1 1.02)" x="-76.94 -56.18 -40.26 -32.18 -16.32">H3f3a</text>
<text transform="translate(683.79 799.75) rotate(-90) scale(1 1.02)" x="-54.66 -40.32 -24.26 -15.81">Taf1</text>
<text transform="translate(714.41 799.75) rotate(-90) scale(1 1.02)" x="-54.66 -40.32 -24.26 -16.16">Taf2</text>
<text transform="translate(745.04 799.75) rotate(-90) scale(1 1.02)" x="-87.01 -64.32 -48.02 -32.19 -16.07">Gapdh</text>
<text transform="translate(775.66 799.75) rotate(-90) scale(1 1.02)" x="-58.96 -39.12 -24.26 -16.02">Actb</text>
<text transform="translate(806.29 799.75) rotate(-90) scale(1 1.02)" x="-94.01 -71.15 -55.04 -48.02 -32.07 -16.18">Golph3</text>
<text transform="translate(836.91 799.75) rotate(-90) scale(1 1.02)" x="-36 -18.26 -9.89">Zfr</text>
<text transform="translate(867.54 799.75) rotate(-90) scale(1 1.02)" x="-67.96 -48.11 -32.02 -15.81">Sub1</text>
<text transform="translate(898.16 799.75) rotate(-90) scale(1 1.02)" x="-55.66 -41.32 -24.89 -14.98">Tars</text>
<text transform="translate(928.79 799.75) rotate(-90) scale(1 1.02)" x="-84.96 -65.02 -41.32 -25.12 -9.89">Amacr</text>
<text transform="translate(966.91 799.75) rotate(-90) scale(1 1.02)" x="-71.96 -48.32 -32.02 -16.16">Map2</text>
<text transform="translate(997.54 799.75) rotate(-90) scale(1 1.02)" x="-78.66 -64.11 -48.02 -32.02 -16.18">Tubb3</text>
<text transform="translate(1028.16 799.75) rotate(-90) scale(1 1.02)" x="-111.01 -90.02 -74.11 -57.89 -48.15 -32.19 -15.81">Neurod1</text>
<text transform="translate(1058.79 799.75) rotate(-90) scale(1 1.02)" x="-69.01 -48.02 -32.26 -24.02">Nefm</text>
<text transform="translate(1089.41 799.75) rotate(-90) scale(1 1.02)" x="-52.01 -31.02 -15.26 -7.04">Nefl</text>
<text transform="translate(1120.04 799.75) rotate(-90) scale(1 1.02)" x="-51.01 -30.12 -15.15">Dcx</text>
<text transform="translate(1150.66 799.75) rotate(-90) scale(1 1.02)" x="-59.95 -42.02 -25.89 -15.81">Tbr1</text>
</g>
<g class="t">
<text transform="translate(313.3 65.7) scale(1 1.035)" x="-46.51 -21.29 1.49 28.52">NPGs</text>
<text transform="translate(41 177.81) rotate(-90) scale(1 1.035)" x="-46.51 -21.29 1.49 28.52">NPGs</text>
<text transform="translate(688.3 65.7) scale(1 1.035)" x="-23.92 0.99">HK</text>
<text transform="translate(41 451.59) rotate(-90) scale(1 1.035)" x="-23.92 0.99">HK</text>
<text transform="translate(1047.99 65.7) scale(1 1.035)" x="-46.29 -23.51 1.49 28.52">PNGs</text>
<text transform="translate(41 714.28) rotate(-90) scale(1 1.035)" x="-46.29 -23.51 1.49 28.52">PNGs</text>
</g>
<text class="lt" transform="translate(1169.6 414.85) scale(1 1.04)" x="-0.09 18.91 39.32 53.1 72.08 90.99 97.85 112.9 128.8 143.36">COTAN coex</text>
<rect x="1169.1" y="428.1" width="156.8" height="32.2" rx="1" fill="url(#lg)"/>
<rect x="1174.6" y="428.1" width="2" height="7.7" fill="#fff"/>
<rect x="1174.6" y="452.6" width="2" height="7.7" fill="#fff"/>
<rect x="1245.3" y="428.1" width="2" height="7.7" fill="#fff"/>
<rect x="1245.3" y="452.6" width="2" height="7.7" fill="#fff"/>
<rect x="1316" y="428.1" width="2" height="7.7" fill="#fff"/>
<rect x="1316" y="452.6" width="2" height="7.7" fill="#fff"/>
<g class="ll">
<text transform="translate(1175.6 486.8) scale(1 1.0)" x="-23.04 -14.08 1 7.92">-0.5</text>
<text transform="translate(1246.3 486.8) scale(1 1.0)" x="-7.58">0</text>
<text transform="translate(1317.8 486.8) scale(1 1.0)" x="-18.58 -3.5 3.42">0.5</text>
</g>
</svg></body></html>
